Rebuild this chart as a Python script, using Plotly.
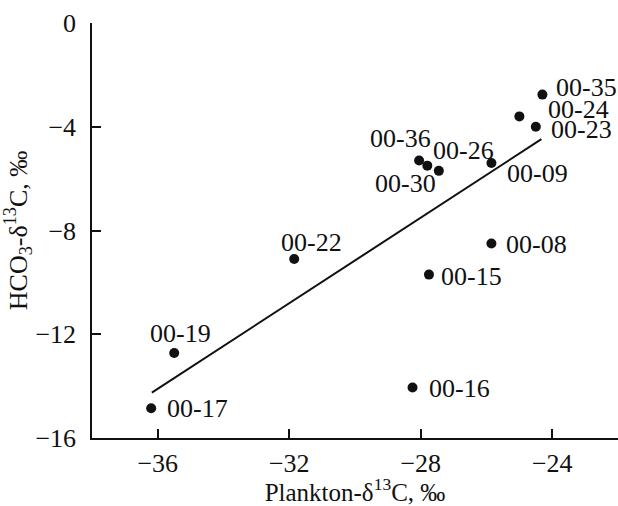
import plotly.graph_objects as go

# Data
samples = ["00-17", "00-19", "00-22", "00-15", "00-08", "00-16", "00-35",
           "00-24", "00-23", "00-36", "00-30", "00-26", "00-09"]
plankton_d13c = [-36.2, -35.5, -31.85, -27.75, -25.85, -28.25, -24.3,
                 -25.0, -24.5, -28.05, -27.8, -27.45, -25.85]
hco3_d13c = [-14.85, -12.72, -9.1, -9.7, -8.5, -14.05, -2.76,
             -3.6, -4.0, -5.3, -5.5, -5.7, -5.4]

# Regression line endpoints
fit_x = [-36.18, -24.33]
fit_y = [-14.25, -4.48]

x_ticks = [-36, -32, -28, -24]
y_ticks = [0, -4, -8, -12, -16]

# label offsets (pixels) relative to each dot: (xanchor, xshift, yshift)
label_style = {
    "00-17": ("left", 14, 0),
    "00-19": ("center", 6, 19),
    "00-22": ("center", 17, 17),
    "00-15": ("left", 10, -2),
    "00-08": ("left", 13, -1),
    "00-16": ("left", 14, -1),
    "00-35": ("left", 12, 7),
    "00-24": ("left", 27, 7),
    "00-23": ("left", 13, -3),
    "00-36": ("right", 14, 22),
    "00-30": ("right", 11, -18),
    "00-26": ("center", 25, 20),
    "00-09": ("left", 14, -10),
}

FONT = "Liberation Serif"
INK = "#111111"
LBL = 26

fig = go.Figure()
fig.add_trace(go.Scatter(x=fit_x, y=fit_y, mode="lines",
                         line=dict(color=INK, width=2), hoverinfo="skip"))
fig.add_trace(go.Scatter(x=plankton_d13c, y=hco3_d13c, mode="markers",
                         marker=dict(color=INK, size=10), text=samples))

for name, xv, yv in zip(samples, plankton_d13c, hco3_d13c):
    anchor, dx, dy = label_style[name]
    fig.add_annotation(x=xv, y=yv, text=name, showarrow=False,
                       xanchor=anchor, yanchor="middle", xshift=dx, yshift=dy,
                       font=dict(family=FONT, size=LBL, color=INK))

fig.update_layout(
    width=618, height=506,
    margin=dict(l=92, r=0, t=23, b=68),
    paper_bgcolor="white", plot_bgcolor="white",
    showlegend=False,
    font=dict(family=FONT, size=LBL, color=INK),
)
fig.update_xaxes(range=[-38, -22], tickvals=x_ticks,
                 ticktext=[f"\u2212{abs(v)}" for v in x_ticks],
                 ticks="inside", ticklen=9, tickwidth=1.5, tickcolor=INK,
                 showline=True, linecolor=INK, linewidth=1.5,
                 showgrid=False, zeroline=False,
                 ticklabelstandoff=1,
                 tickfont=dict(family=FONT, size=LBL, color=INK),
                 title=dict(text="Plankton-δ<sup>13</sup>C, ‰",
                            font=dict(family=FONT, size=25, color=INK), standoff=4))
fig.update_yaxes(range=[-16, 0], tickvals=y_ticks,
                 ticktext=["0" if v == 0 else f"\u2212{abs(v)}" for v in y_ticks],
                 ticks="inside", ticklen=9, tickwidth=1.5, tickcolor=INK,
                 showline=True, linecolor=INK, linewidth=1.5,
                 showgrid=False, zeroline=False,
                 ticklabelstandoff=9,
                 tickfont=dict(family=FONT, size=LBL, color=INK),
                 title=dict(text="HCO<sub>3</sub>-δ<sup>13</sup>C, ‰",
                            font=dict(family=FONT, size=26, color=INK), standoff=2))

fig.write_html("out.html")
